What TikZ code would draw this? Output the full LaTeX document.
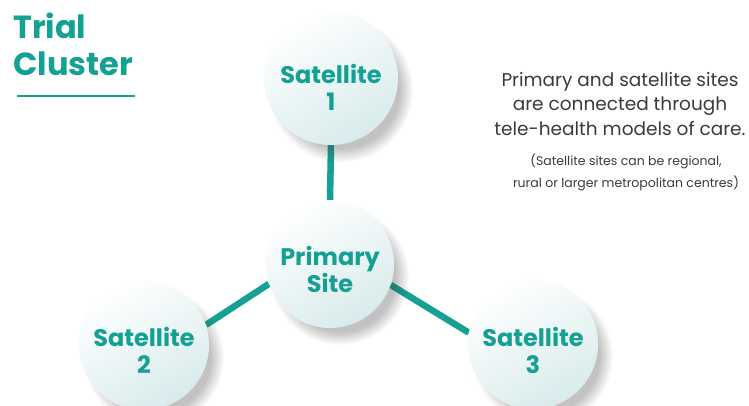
\documentclass[tikz,border=0pt]{standalone}
\usepackage{fontspec}
\setmainfont{Poppins}
\usetikzlibrary{shadows,fadings}
\definecolor{teal1}{HTML}{14A092}
\definecolor{disc}{HTML}{D8EBEC}
\definecolor{bodytext}{HTML}{3A3A3A}
\pgfdeclarelayer{bg}
\pgfsetlayers{bg,main}
\tikzset{
  sitedisc/.style={circle, minimum size=#1, inner sep=0pt,
    top color=white, bottom color=disc, shading angle=30,
    general shadow={shadow xshift=9pt, shadow yshift=-11pt, shadow scale=1.08,
      fill=black!75, opacity=0.32, path fading=circle with fuzzy edge 20 percent}},
  sitedisc/.default=130pt,
  sitetext/.style={text=teal1, font=\bfseries\fontsize{24}{27}\selectfont, align=center, inner sep=0pt},
  linkline/.style={draw=teal1, line width=6.5pt},
  bodytxt/.style={text=bodytext, align=center, inner sep=0pt}
}
\begin{document}
\begin{tikzpicture}[x=1pt,y=-1pt]
\useasboundingbox (0,0) rectangle (749,405);
% title
\node[anchor=base west, inner sep=0pt, text=teal1, font=\bfseries\fontsize{32}{37}\selectfont, align=left] (title) at (13,75) {Trial\\Cluster};
\coordinate (ulA) at (17,96);
\coordinate (ulB) at (135,96);
\draw[teal1, line width=1.4pt] (ulA) -- (ulB);
% discs
\node[sitedisc=134pt] (s1) at (331,78) {};
\node[sitedisc=128pt] (p) at (330,264) {};
\node[sitedisc] (s2) at (144,345) {};
\node[sitedisc] (s3) at (533,344) {};
% disc texts
\node[sitetext] (s1t) at ([yshift=-9pt]s1.center) {Satellite\\1};
\node[sitetext] (pt) at ([yshift=-5pt]p.center) {Primary\\Site};
\node[sitetext] (s2t) at ([yshift=-5pt]s2.center) {Satellite\\2};
\node[sitetext] (s3t) at ([yshift=-6pt]s3.center) {Satellite\\3};
% links
\begin{pgfonlayer}{bg}
\draw[linkline] (s1.270) -- (p.90);
\draw[linkline] (p.198) -- (s2.18);
\draw[linkline] (p.-19) -- (s3.170);
\end{pgfonlayer}
% texts
\node[bodytxt, font=\fontsize{18.5}{24.5}\selectfont] (desc) at (620,104) {Primary and satellite sites\\are connected through\\tele-health models of care.};
\node[bodytxt, font=\fontsize{12.5}{22}\selectfont] (note) at (626,172) {(Satellite sites can be regional,\\rural or larger metropolitan centres)};
\end{tikzpicture}
\end{document}
